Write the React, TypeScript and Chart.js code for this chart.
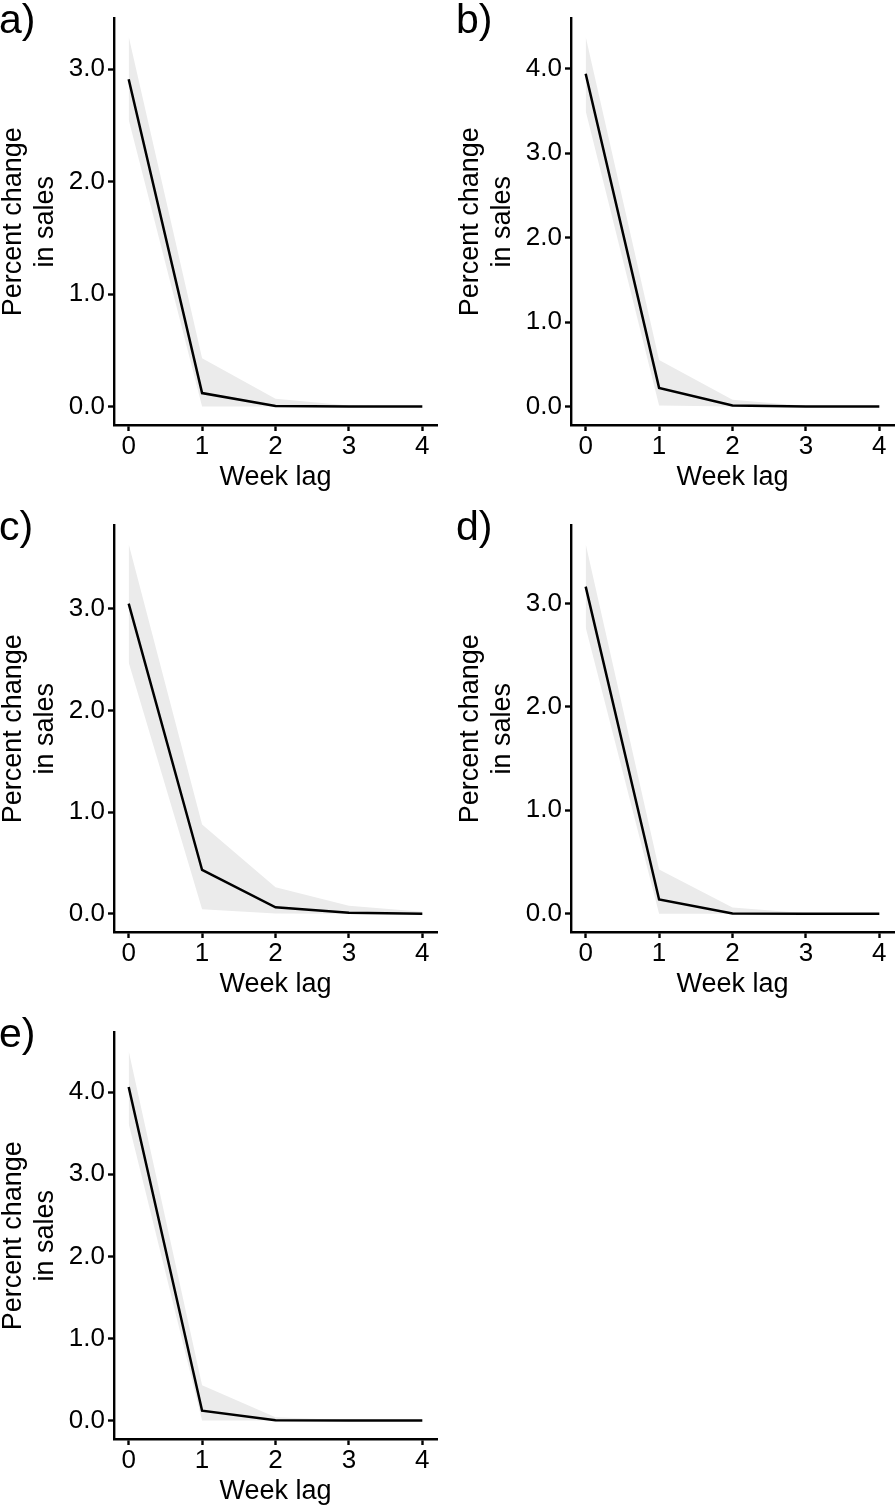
import React, { useEffect, useRef } from "react";
import { Chart, registerables } from "chart.js";

Chart.register(...registerables);

// ---------- data ----------
const weekLag = [0, 1, 2, 3, 4];
const xTickValues = [0, 1, 2, 3, 4];
const xTitle = "Week lag";
const yTitle = ["Percent change", "in sales"];

// panel a
const estA = [2.91, 0.12, 0.005, 0.0, 0.0];
const lowA = [2.55, 0.0, 0.0, 0.0, 0.0];
const highA = [3.29, 0.43, 0.07, 0.01, 0.0];
const yTicksA = [0, 1, 2, 3];
const yRangeA = [-0.164, 3.45];

// panel b
const estB = [3.94, 0.22, 0.01, 0.0, 0.0];
const lowB = [3.5, 0.01, 0.0, 0.0, 0.0];
const highB = [4.38, 0.55, 0.08, 0.005, 0.0];
const yTicksB = [0, 1, 2, 3, 4];
const yRangeB = [-0.22, 4.594];

// panel c
const estC = [3.05, 0.43, 0.063, 0.01, 0.0];
const lowC = [2.47, 0.044, 0.002, 0.0, 0.0];
const highC = [3.635, 0.877, 0.259, 0.077, 0.02];
const yTicksC = [0, 1, 2, 3];
const yRangeC = [-0.18, 3.817];

// panel d
const estD = [3.163, 0.138, 0.003, 0.0, 0.0];
const lowD = [2.767, 0.0, 0.0, 0.0, 0.0];
const highD = [3.574, 0.428, 0.06, 0.005, 0.0];
const yTicksD = [0, 1, 2, 3];
const yRangeD = [-0.177, 3.753];

// panel e
const estE = [4.064, 0.119, 0.003, 0.0, 0.0];
const lowE = [3.616, 0.0, 0.0, 0.0, 0.0];
const highE = [4.504, 0.429, 0.04, 0.003, 0.0];
const yTicksE = [0, 1, 2, 3, 4];
const yRangeE = [-0.226, 4.727];

// ---------- style ----------
const FONT = '"Liberation Sans", Arial, Helvetica, sans-serif';
const RIBBON = "rgb(235,235,235)";
const AXIS_W = 2.4;

const panelLabelPlugin = {
  id: "panelLabel",
  afterDraw(chart: any, _args: any, opts: any) {
    const ctx = chart.ctx;
    ctx.save();
    ctx.font = `41px ${FONT}`;
    ctx.fillStyle = "#000";
    ctx.textAlign = "left";
    ctx.textBaseline = "alphabetic";
    ctx.fillText(opts.text, -1, 33);
    ctx.restore();
  },
};

type PanelProps = {
  label: string;
  est: number[];
  low: number[];
  high: number[];
  yTicks: number[];
  yRange: number[];
  left: number;
  top: number;
  width: number;
  rightPad: number;
};

function Panel(p: PanelProps) {
  const ref = useRef<HTMLCanvasElement | null>(null);
  useEffect(() => {
    if (!ref.current) return;
    const pts = (arr: number[]) => weekLag.map((x, i) => ({ x, y: arr[i] }));
    const chart = new Chart(ref.current, {
      type: "line",
      data: {
        datasets: [
          {
            data: pts(p.est),
            borderColor: "#000",
            borderWidth: 2.5,
            pointRadius: 0,
            fill: false,
            tension: 0,
          },
          {
            data: pts(p.high),
            borderColor: "rgba(0,0,0,0)",
            borderWidth: 0,
            pointRadius: 0,
            backgroundColor: RIBBON,
            fill: "+1",
            tension: 0,
          },
          {
            data: pts(p.low),
            borderColor: "rgba(0,0,0,0)",
            borderWidth: 0,
            pointRadius: 0,
            fill: false,
            tension: 0,
          },
        ],
      } as any,
      options: {
        responsive: false,
        animation: false,
        devicePixelRatio: 1,
        layout: { padding: { left: 0, right: p.rightPad, top: 9, bottom: 0 } },
        plugins: {
          legend: { display: false },
          tooltip: { enabled: false },
          panelLabel: { text: p.label },
        } as any,
        scales: {
          x: {
            type: "linear",
            min: -0.2,
            max: 4.2,
            afterBuildTicks: (s: any) => {
              s.ticks = xTickValues.map((v) => ({ value: v }));
            },
            afterFit: (s: any) => {
              s.height = 82;
            },
            ticks: {
              color: "#000",
              font: { family: FONT, size: 26 },
              padding: 0.5,
              autoSkip: false,
              maxRotation: 0,
              callback: (v: any) => String(v),
            },
            grid: {
              drawOnChartArea: false,
              drawTicks: true,
              tickLength: 6,
              tickWidth: AXIS_W,
              color: "#000",
            },
            border: { display: true, color: "#000", width: AXIS_W },
            title: {
              display: true,
              text: xTitle,
              color: "#000",
              font: { family: FONT, size: 27, lineHeight: 1.2 },
              padding: { top: 0, bottom: 13.5 },
            },
          },
          y: {
            type: "linear",
            min: p.yRange[0],
            max: p.yRange[1],
            afterBuildTicks: (s: any) => {
              s.ticks = p.yTicks.map((v) => ({ value: v }));
            },
            afterFit: (s: any) => {
              s.width = 114;
            },
            ticks: {
              color: "#000",
              font: { family: FONT, size: 26 },
              padding: 3,
              autoSkip: false,
              callback: (v: any) => Number(v).toFixed(1),
            },
            grid: {
              drawOnChartArea: false,
              drawTicks: true,
              tickLength: 6,
              tickWidth: AXIS_W,
              color: "#000",
            },
            border: { display: true, color: "#000", width: AXIS_W },
            title: {
              display: true,
              text: yTitle,
              color: "#000",
              font: { family: FONT, size: 27, lineHeight: 1.185 },
              padding: { top: -2.5, bottom: 0 },
            },
          },
        },
      } as any,
      plugins: [panelLabelPlugin as any],
    });
    return () => chart.destroy();
  }, []);
  return (
    <div style={{ position: "absolute", left: p.left, top: p.top, width: p.width, height: 507 }}>
      <canvas ref={ref} width={p.width} height={507} style={{ display: "block", width: p.width, height: 507 }} />
    </div>
  );
}

export default function App() {
  return (
    <div
      style={{
        position: "absolute",
        left: 0,
        top: 0,
        width: 895,
        height: 1508,
        overflow: "hidden",
        background: "#fff",
      }}
    >
      <Panel label="a)" est={estA} low={lowA} high={highA} yTicks={yTicksA} yRange={yRangeA} left={0} top={0} width={447} rightPad={10} />
      <Panel label="b)" est={estB} low={lowB} high={highB} yTicks={yTicksB} yRange={yRangeB} left={457} top={0} width={438} rightPad={1} />
      <Panel label="c)" est={estC} low={lowC} high={highC} yTicks={yTicksC} yRange={yRangeC} left={0} top={507} width={447} rightPad={10} />
      <Panel label="d)" est={estD} low={lowD} high={highD} yTicks={yTicksD} yRange={yRangeD} left={457} top={507} width={438} rightPad={1} />
      <Panel label="e)" est={estE} low={lowE} high={highE} yTicks={yTicksE} yRange={yRangeE} left={0} top={1014} width={447} rightPad={10} />
    </div>
  );
}
